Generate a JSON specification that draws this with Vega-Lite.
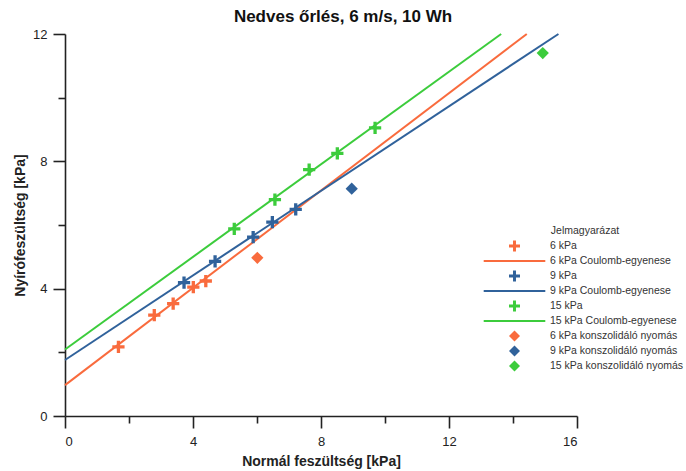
{
  "$schema": "https://vega.github.io/schema/vega-lite/v6.json",
  "width": 512,
  "height": 382,
  "autosize": {"type": "none"},
  "padding": {"left": 65, "top": 34, "right": 109, "bottom": 55},
  "background": "white",
  "title": {
    "text": "Nedves őrlés, 6 m/s, 10 Wh",
    "font": "Liberation Sans",
    "fontSize": 17,
    "fontWeight": "bold",
    "color": "#111",
    "anchor": "middle",
    "dx": 22,
    "offset": 2
  },
  "config": {
    "view": {"stroke": null},
    "font": "Liberation Sans",
    "axis": {
      "grid": false,
      "domainColor": "#222",
      "domainWidth": 1.6,
      "tickColor": "#222",
      "tickWidth": 1.6,
      "labelFont": "Liberation Sans",
      "labelFontSize": 13,
      "labelColor": "#222",
      "titleFont": "Liberation Sans",
      "titleFontSize": 14,
      "titleFontWeight": "bold",
      "titleColor": "#222"
    }
  },
  "data": {
    "values": [
      {"x": 1.67, "y": 2.17, "series": "6 kPa"},
      {"x": 2.79, "y": 3.17, "series": "6 kPa"},
      {"x": 3.38, "y": 3.53, "series": "6 kPa"},
      {"x": 4.01, "y": 4.05, "series": "6 kPa"},
      {"x": 4.40, "y": 4.24, "series": "6 kPa"},
      {"x": 3.72, "y": 4.19, "series": "9 kPa"},
      {"x": 4.69, "y": 4.86, "series": "9 kPa"},
      {"x": 5.88, "y": 5.62, "series": "9 kPa"},
      {"x": 6.48, "y": 6.09, "series": "9 kPa"},
      {"x": 7.21, "y": 6.49, "series": "9 kPa"},
      {"x": 5.29, "y": 5.88, "series": "15 kPa"},
      {"x": 6.56, "y": 6.80, "series": "15 kPa"},
      {"x": 7.63, "y": 7.74, "series": "15 kPa"},
      {"x": 8.51, "y": 8.25, "series": "15 kPa"},
      {"x": 9.69, "y": 9.05, "series": "15 kPa"},
      {"x": 6.01, "y": 4.97, "series": "6 kPa konszolidáló nyomás"},
      {"x": 8.96, "y": 7.14, "series": "9 kPa konszolidáló nyomás"},
      {"x": 14.93, "y": 11.40, "series": "15 kPa konszolidáló nyomás"},
      {"x": 0, "y": 0.97, "series": "6 kPa Coulomb-egyenese", "kind": "line"},
      {"x": 14.43, "y": 12.0, "series": "6 kPa Coulomb-egyenese", "kind": "line"},
      {"x": 0, "y": 1.76, "series": "9 kPa Coulomb-egyenese", "kind": "line"},
      {"x": 15.42, "y": 12.0, "series": "9 kPa Coulomb-egyenese", "kind": "line"},
      {"x": 0, "y": 2.09, "series": "15 kPa Coulomb-egyenese", "kind": "line"},
      {"x": 13.63, "y": 12.0, "series": "15 kPa Coulomb-egyenese", "kind": "line"}
    ]
  },
  "resolve": {"axis": {"x": "independent", "y": "independent"}},
  "layer": [
    {
      "transform": [{"filter": "datum.kind === 'line'"}],
      "mark": {"type": "line", "strokeWidth": 2},
      "encoding": {
        "x": {
          "field": "x",
          "type": "quantitative",
          "scale": {"domain": [0, 16], "nice": false, "zero": false},
          "axis": {"orient": "bottom", "values": [2, 6, 10, 14], "tickSize": 7, "labels": false, "domain": false, "title": null}
        },
        "y": {
          "field": "y",
          "type": "quantitative",
          "scale": {"domain": [0, 12], "nice": false, "zero": false},
          "axis": {"orient": "left", "values": [2, 6, 10], "tickSize": 7, "labels": false, "domain": false, "title": null}
        },
        "color": {"field": "series", "type": "nominal"},
        "detail": {"field": "series"}
      }
    },
    {
      "transform": [{"filter": "datum.kind !== 'line'"}],
      "mark": {"type": "point", "filled": true, "opacity": 1, "size": 150, "strokeWidth": 0},
      "encoding": {
        "x": {
          "field": "x",
          "type": "quantitative",
          "scale": {"domain": [0, 16], "nice": false, "zero": false},
          "axis": {"orient": "bottom", "title": "Normál feszültség [kPa]", "values": [0, 4, 8, 12, 16], "tickSize": 12, "labelPadding": 7, "titlePadding": 6}
        },
        "y": {
          "field": "y",
          "type": "quantitative",
          "scale": {"domain": [0, 12], "nice": false, "zero": false},
          "axis": {"orient": "left", "title": "Nyírófeszültség [kPa]", "values": [0, 4, 8, 12], "tickSize": 12, "labelPadding": 6, "titlePadding": 5}
        },
        "color": {
          "field": "series",
          "type": "nominal",
          "scale": {
            "domain": ["6 kPa", "6 kPa Coulomb-egyenese", "9 kPa", "9 kPa Coulomb-egyenese", "15 kPa", "15 kPa Coulomb-egyenese", "6 kPa konszolidáló nyomás", "9 kPa konszolidáló nyomás", "15 kPa konszolidáló nyomás"],
            "range": ["#f96b3d", "#f96b3d", "#30629b", "#30629b", "#3ccc3c", "#3ccc3c", "#f96b3d", "#30629b", "#3ccc3c"]
          },
          "legend": {
            "title": "Jelmagyarázat",
            "orient": "none",
            "legendX": 413,
            "legendY": 184,
            "padding": 8,
            "symbolOffset": 23,
            "labelOffset": 30,
            "symbolSize": 121,
            "symbolStrokeWidth": 0,
            "rowPadding": 4,
            "titlePadding": 4,
            "titleAnchor": "middle",
            "titleFont": "Liberation Sans",
            "titleFontSize": 10.5,
            "titleFontWeight": "normal",
            "titleColor": "#333",
            "labelFont": "Liberation Sans",
            "labelFontSize": 10.5,
            "labelColor": "#333",
            "labelLimit": 300,
            "fillColor": "white"
          }
        },
        "shape": {
          "field": "series",
          "type": "nominal",
          "scale": {
            "domain": ["6 kPa", "6 kPa Coulomb-egyenese", "9 kPa", "9 kPa Coulomb-egyenese", "15 kPa", "15 kPa Coulomb-egyenese", "6 kPa konszolidáló nyomás", "9 kPa konszolidáló nyomás", "15 kPa konszolidáló nyomás"],
            "range": [
              "M-1,-0.27H-0.27V-1H0.27V-0.27H1V0.27H0.27V1H-0.27V0.27H-1Z",
              "M-5.6,-0.17H5.6V0.17H-5.6Z",
              "M-1,-0.27H-0.27V-1H0.27V-0.27H1V0.27H0.27V1H-0.27V0.27H-1Z",
              "M-5.6,-0.17H5.6V0.17H-5.6Z",
              "M-1,-0.27H-0.27V-1H0.27V-0.27H1V0.27H0.27V1H-0.27V0.27H-1Z",
              "M-5.6,-0.17H5.6V0.17H-5.6Z",
              "M0,-1L1,0L0,1L-1,0Z",
              "M0,-1L1,0L0,1L-1,0Z",
              "M0,-1L1,0L0,1L-1,0Z"
            ]
          }
        }
      }
    }
  ]
}
